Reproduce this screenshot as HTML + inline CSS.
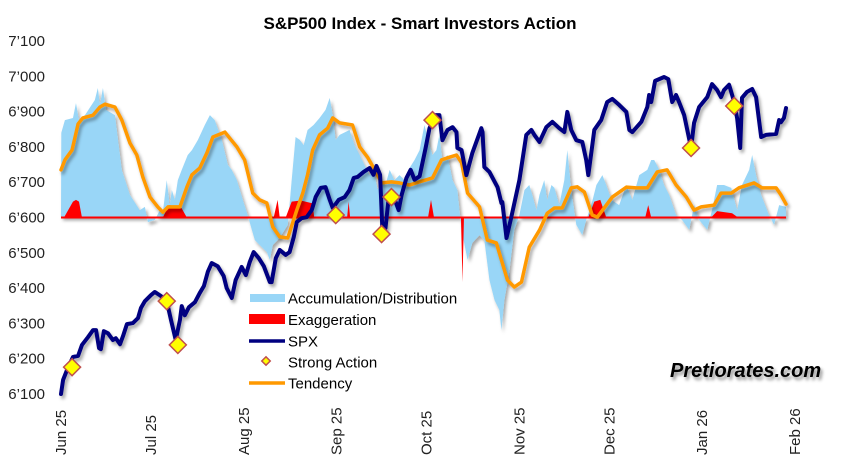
<!DOCTYPE html>
<html><head><meta charset="utf-8"><style>
body{margin:0;background:#fff;}
svg{display:block;font-family:"Liberation Sans",Arial,sans-serif;}
</style></head><body>
<svg id="chart" width="853" height="460" viewBox="0 0 853 460" xmlns="http://www.w3.org/2000/svg">
<defs>
<filter id="sh" x="-5%" y="-5%" width="110%" height="120%"><feDropShadow dx="2" dy="3" stdDeviation="1.6" flood-color="#000" flood-opacity="0.35"/></filter>
<filter id="tsh" x="-5%" y="-20%" width="115%" height="160%"><feDropShadow dx="2" dy="3" stdDeviation="1.5" flood-color="#000" flood-opacity="0.45"/></filter>
</defs>
<text x="420" y="29" text-anchor="middle" font-size="17" font-weight="bold">S&amp;P500 Index - Smart Investors Action</text>
<g id="yaxis"></g>
<g id="xaxis"></g>
<g id="plot"></g>
<g font-size="15">
<rect x="250" y="294" width="35" height="8" fill="#99d6f7"/>
<text x="288" y="303.5">Accumulation/Distribution</text>
<rect x="249" y="314" width="36" height="10" fill="#ff0000"/>
<text x="288" y="325">Exaggeration</text>
<line x1="249" y1="341" x2="285" y2="341" stroke="#000080" stroke-width="3.5"/>
<text x="288" y="346.5">SPX</text>
<rect x="263" y="358" width="6" height="6" fill="#ffff00" stroke="#c0504d" stroke-width="1.5" transform="rotate(45 266 361)"/>
<text x="288" y="367.5">Strong Action</text>
<line x1="249" y1="383" x2="285" y2="383" stroke="#ff9900" stroke-width="3.5"/>
<text x="288" y="388.5">Tendency</text>
</g>
<text x="670" y="377" font-size="20" font-weight="bold" font-style="italic" filter="url(#tsh)">Pretiorates.com</text>
</svg>
<script>
const yTicks=[6100,6200,6300,6400,6500,6600,6700,6800,6900,7000,7100];
const yTickLabels=["6’100","6’200","6’300","6’400","6’500","6’600","6’700","6’800","6’900","7’000","7’100"];
const xTickDays=[0,30,61,92,122,153,183,214,245];
const xTickLabels=["Jun 25","Jul 25","Aug 25","Sep 25","Oct 25","Nov 25","Dec 25","Jan 26","Feb 26"];
const baseline=6600;
const spxDay=[0,0.7,2,4,5.7,7,9,10.7,11.7,12.7,13.3,14.3,15.7,17.3,18.3,19.7,20.7,22,24,25.7,26.7,28,30,31.3,33.3,35.3,36.7,38.3,39.7,40.3,41.3,42.7,44.7,46.3,47.7,49,50.3,52.3,54.3,55.3,57,58.3,60.3,61.7,63,64.3,66,67.7,69.7,70.3,71.7,73,75,76.3,77.7,78.7,80.3,82,83.7,85,86.7,88.3,89.7,90.7,92.7,94.7,96.3,97.7,99,101,103,104.3,105.3,106.5,107,107.3,108.3,109.3,110.3,111.7,112.7,113.7,115.3,116.7,118,119.7,121.7,123,125,126.3,127.3,129,130.7,132,132.3,133.7,135.3,137.3,140.3,140.7,141.3,143,145.7,147,147.3,148.7,150.3,153,155.3,157,158,159.7,162,164,166.3,168,169,170.3,172,174,175.3,176,177,178,180.3,182.3,184,186.3,188.7,189.7,190.7,193.7,195.7,196.3,197,198.3,201.3,202.7,204,205.3,206.3,208,210.3,211.3,213,215.7,217.3,219,220.3,221.3,223,224.7,225.7,226.7,227.3,229,230.7,232,233.7,235.3,238.7,239.7,240.3,241.3,242];
const spxVal=[6100,6140,6168,6205,6208,6239,6261,6281,6281,6230,6227,6278,6272,6253,6258,6241,6264,6298,6301,6315,6344,6363,6380,6389,6378,6363,6310,6253,6310,6349,6323,6346,6360,6386,6406,6446,6471,6462,6434,6400,6372,6423,6460,6437,6474,6502,6485,6462,6417,6417,6485,6508,6494,6502,6545,6587,6598,6601,6621,6658,6684,6686,6650,6627,6650,6658,6678,6712,6715,6729,6740,6721,6746,6721,6621,6559,6570,6650,6658,6644,6621,6664,6712,6735,6707,6717,6797,6853,6890,6890,6819,6848,6856,6842,6797,6791,6720,6783,6853,6842,6743,6729,6686,6641,6644,6542,6601,6706,6834,6848,6834,6814,6856,6871,6853,6842,6899,6848,6819,6814,6763,6720,6783,6848,6876,6927,6936,6919,6899,6848,6842,6871,6913,6947,6927,6987,6998,6992,6927,6947,6927,6890,6797,6868,6913,6941,6978,6961,6941,6961,6976,6927,6880,6797,6939,6956,6964,6941,6828,6834,6837,6876,6870,6882,6910];
const tendDay=[0,1.3,3.7,5.7,7.3,10.7,13,14.7,18,20.3,23,25.3,27.3,29.7,32.3,34,35.7,37.3,39.7,42,43.7,46.3,48.7,50.7,54.7,56.3,58.7,61.3,64,66.3,68.7,70.7,73,75.7,78.7,80.7,82.3,84,86.3,89,90.7,93,97.3,99.7,102.3,105.3,107,110.3,113,116.3,119.7,124,127,129,132,133.7,135.7,139.7,142.3,145.3,149,151.3,153.7,156.3,159.7,162.3,164.7,167.3,170.3,172.3,174.7,177.3,179,181.3,184,188.7,192,195.7,199,202.3,205.3,208.7,211.3,213.7,218,220.3,223.7,226.3,231.3,234,238.7,240.3,242];
const tendVal=[6735,6763,6791,6865,6882,6890,6913,6921,6913,6876,6811,6777,6715,6658,6630,6615,6630,6630,6630,6686,6721,6740,6783,6828,6842,6825,6800,6763,6669,6650,6641,6573,6545,6542,6621,6669,6721,6791,6834,6853,6882,6868,6862,6800,6771,6726,6698,6701,6698,6692,6701,6712,6763,6769,6777,6755,6669,6630,6536,6528,6423,6403,6417,6516,6564,6612,6627,6627,6684,6687,6672,6607,6601,6627,6658,6686,6684,6684,6729,6735,6692,6658,6621,6630,6635,6669,6669,6684,6698,6684,6684,6664,6638];
const adDay=[0,0.1,1.3,4,5,6,8,11.3,12.3,13,14,15,18,20.3,23,26.3,28,29,31.3,33,34,35.3,36.3,37,38,39,40.3,42.3,43.7,45.7,48,49.7,51.3,53.7,55.7,57,58.7,60.7,62.3,63.7,64.7,66.3,68.7,69.7,70.7,72.3,74,75.7,77,78.3,79.7,81,82.3,84.3,86.3,88.3,89.7,90.7,91.7,93,96.3,98,99.7,101.3,103,104.3,105.7,107,108.3,109.7,111.3,113,114.7,116.3,118,119.7,121.3,123,124,125.3,126.3,127.3,129,130.7,132.3,133.7,135.7,137.3,139.7,141.3,143,144.7,146.3,147,148,149.7,151.3,153,154.7,156.3,157.3,158.7,159.7,161.3,162.3,163.7,164.7,166.3,168,169,170.3,172,174,175.3,177,178.7,180.7,182,183.7,186.3,188.7,190.7,193,195.7,197,198,199.7,201.3,203,205.3,207.3,209.7,211.3,213,215.7,217.3,219,221.3,223.7,225.7,227.3,229.7,230.7,232,233.7,236.3,238,239.7,242];
const adVal=[6600,6840,6876,6882,6924,6876,6890,6933,6967,6919,6967,6905,6890,6735,6664,6621,6630,6587,6593,6621,6615,6706,6635,6678,6650,6706,6735,6777,6791,6820,6862,6890,6876,6820,6749,6735,6706,6650,6607,6565,6536,6522,6502,6480,6522,6536,6556,6579,6706,6828,6820,6805,6848,6862,6882,6905,6939,6890,6820,6834,6848,6805,6777,6749,6720,6735,6678,6706,6692,6735,6706,6720,6706,6740,6763,6791,6862,6805,6777,6791,6834,6763,6777,6706,6678,6565,6480,6528,6550,6536,6423,6366,6338,6281,6366,6451,6565,6607,6678,6692,6664,6621,6664,6706,6650,6692,6684,6635,6706,6791,6678,6579,6550,6593,6635,6692,6720,6692,6650,6635,6692,6650,6720,6735,6763,6763,6735,6692,6664,6607,6593,6565,6635,6593,6565,6621,6692,6692,6684,6621,6692,6735,6777,6720,6664,6607,6579,6635,6630];
const exDay=[1,4,5,6,7,34,36,40,42,71,72.3,73,75,77,80,84,84.5,95.5,96,96.5,122.5,123.5,124.5,133.5,134,134.5,176,178,180,182,195,196,197,217,219,224,226];
const exVal=[6600,6645,6650,6645,6600,6600,6635,6630,6600,6600,6650,6600,6600,6645,6648,6640,6600,6600,6645,6600,6600,6650,6600,6600,6417,6600,6600,6645,6650,6600,6600,6635,6600,6600,6618,6612,6600];
const saDay=[3.7,35.3,39,91.7,107,110.3,124,210.3,224.7];
const saVal=[6176,6363,6239,6607,6553,6658,6876,6797,6916];

const NS="http://www.w3.org/2000/svg";
const X0=61,PXD=2.996,Y0=394,PXV=0.353;
const sx=d=>X0+d*PXD, sy=v=>Y0-(v-6100)*PXV;
function mk(tag,attrs,parent){const e=document.createElementNS(NS,tag);for(const k in attrs)e.setAttribute(k,attrs[k]);parent.appendChild(e);return e;}
const yax=document.getElementById('yaxis'),xax=document.getElementById('xaxis'),plot=document.getElementById('plot');
yTicks.forEach((v,i)=>{const t=mk('text',{x:45,y:sy(v)+5,'text-anchor':'end','font-size':'15',fill:'#222'},yax);t.textContent=yTickLabels[i];

});
xTickDays.forEach((d,i)=>{const x=sx(d)+5;const t=mk('text',{x:x,y:455,'text-anchor':'start','font-size':'15',fill:'#222',transform:`rotate(-90 ${x} 455)`},xax);t.textContent=xTickLabels[i];

});
// A/D area
let p=`M${sx(adDay[0])},${sy(baseline)}`;adDay.forEach((d,i)=>p+=`L${sx(d)},${sy(adVal[i])}`);p+=`L${sx(adDay[adDay.length-1])},${sy(baseline)}Z`;
const ad=mk('path',{d:p,fill:'#99d6f7',filter:'url(#sh)'},plot);


// Exaggeration
let q=`M${sx(exDay[0])},${sy(baseline)}`;exDay.forEach((d,i)=>q+=`L${sx(d)},${sy(exVal[i])}`);q+='Z';
const ex=mk('path',{d:q,fill:'#ff0000'},plot);


const bl=mk('line',{x1:sx(0),x2:sx(242),y1:sy(baseline),y2:sy(baseline),stroke:'#ff0000','stroke-width':2},plot);


function line(days,vals,color,w){return mk('polyline',{points:days.map((d,i)=>sx(d)+','+sy(vals[i])).join(' '),fill:'none',stroke:color,'stroke-width':w,'stroke-linejoin':'round','stroke-linecap':'round',filter:'url(#sh)'},plot);}
const tl=line(tendDay,tendVal,'#ff9900',3.5);


const sl=line(spxDay,spxVal,'#000080',4);


saDay.forEach((d,i)=>{const x=sx(d),y=sy(saVal[i]);const r=mk('rect',{x:x-6,y:y-6,width:12,height:12,fill:'#ffff00',stroke:'#c0504d','stroke-width':1.5,transform:`rotate(45 ${x} ${y})`},plot);

});
</script>
</body></html>
